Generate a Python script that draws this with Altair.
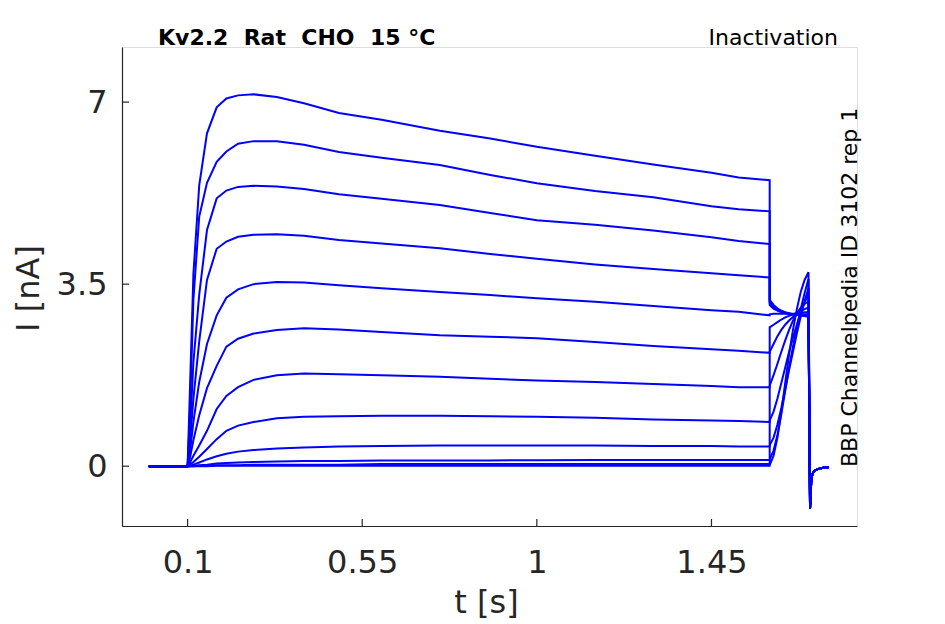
import altair as alt
import pandas as pd

# ---- data ----
# time points (s) of the conditioning pulse
t_pulse = [0.0, 0.1, 0.105, 0.115, 0.13, 0.15, 0.175, 0.2, 0.23, 0.27, 0.33, 0.4,
           0.49, 0.6, 0.75, 0.88, 1.0, 1.15, 1.3, 1.45, 1.52, 1.6]
# current (nA) of each sweep during the conditioning pulse
i_pulse = [
    [0, 0, 1.2, 3.7, 5.4, 6.4, 6.9, 7.07, 7.13, 7.15, 7.10, 6.98, 6.79, 6.66, 6.45, 6.30, 6.14, 5.97, 5.80, 5.64, 5.55, 5.50],
    [0, 0, 0.8, 3.2, 4.8, 5.45, 5.85, 6.05, 6.2, 6.25, 6.25, 6.18, 6.04, 5.93, 5.79, 5.6, 5.44, 5.29, 5.17, 5.0, 4.94, 4.90],
    [0, 0, 0.5, 2.0, 3.3, 4.54, 5.15, 5.30, 5.37, 5.39, 5.38, 5.33, 5.23, 5.14, 5.02, 4.87, 4.73, 4.64, 4.53, 4.40, 4.33, 4.27],
    [0, 0, 0.35, 1.3, 2.4, 3.58, 4.18, 4.32, 4.41, 4.45, 4.46, 4.43, 4.35, 4.28, 4.19, 4.08, 3.99, 3.88, 3.79, 3.71, 3.67, 3.63],
    [0, 0, 0.2, 0.85, 1.62, 2.35, 2.9, 3.24, 3.4, 3.5, 3.54, 3.53, 3.48, 3.42, 3.35, 3.29, 3.23, 3.16, 3.08, 3.0, 2.97, 2.90],
    [0, 0, 0.12, 0.5, 0.98, 1.5, 1.93, 2.3, 2.45, 2.55, 2.62, 2.65, 2.63, 2.58, 2.52, 2.49, 2.46, 2.39, 2.31, 2.25, 2.22, 2.18],
    [0, 0, 0.05, 0.2, 0.4, 0.68, 1.1, 1.35, 1.52, 1.66, 1.75, 1.78, 1.77, 1.75, 1.72, 1.68, 1.65, 1.62, 1.58, 1.54, 1.52, 1.52],
    [0, 0, 0.02, 0.08, 0.18, 0.33, 0.52, 0.68, 0.78, 0.85, 0.92, 0.95, 0.96, 0.97, 0.97, 0.96, 0.95, 0.93, 0.9, 0.88, 0.87, 0.85],
    [0, 0, 0.01, 0.03, 0.07, 0.13, 0.19, 0.24, 0.28, 0.31, 0.34, 0.36, 0.38, 0.39, 0.40, 0.40, 0.40, 0.40, 0.39, 0.39, 0.38, 0.38],
    [0, 0, 0, 0.01, 0.02, 0.03, 0.05, 0.06, 0.07, 0.08, 0.09, 0.1, 0.1, 0.11, 0.11, 0.11, 0.115, 0.12, 0.12, 0.12, 0.12, 0.12],
    [0, 0, 0, 0, 0.01, 0.01, 0.02, 0.02, 0.02, 0.03, 0.03, 0.03, 0.03, 0.04, 0.04, 0.04, 0.04, 0.04, 0.04, 0.04, 0.04, 0.04],
    [0, 0, 0, 0, 0, 0, 0.01, 0.01, 0.01, 0.01, 0.01, 0.01, 0.01, 0.01, 0.01, 0.01, 0.01, 0.01, 0.01, 0.01, 0.01, 0.01],
]
# time points (s) of the test pulse
t_test = [1.6, 1.61, 1.62, 1.63, 1.64, 1.65, 1.66, 1.67, 1.68, 1.69, 1.7]
i_test = [
    [3.2, 3.1, 3.03, 2.99, 2.96, 2.94, 2.92, 2.91, 2.9, 2.89, 2.88],
    [3.17, 3.08, 3.02, 2.98, 2.95, 2.93, 2.92, 2.91, 2.9, 2.89, 2.88],
    [3.14, 3.06, 3.0, 2.97, 2.95, 2.93, 2.92, 2.91, 2.9, 2.9, 2.89],
    [3.1, 3.03, 2.99, 2.96, 2.94, 2.93, 2.92, 2.91, 2.91, 2.9, 2.9],
    [2.92, 2.93, 2.93, 2.93, 2.93, 2.93, 2.93, 2.93, 2.92, 2.92, 2.92],
    [2.2, 2.35, 2.5, 2.62, 2.72, 2.8, 2.87, 2.93, 2.98, 3.02, 3.05],
    [1.55, 1.75, 1.97, 2.2, 2.42, 2.62, 2.8, 2.94, 3.05, 3.12, 3.17],
    [0.88, 1.05, 1.3, 1.6, 1.9, 2.2, 2.47, 2.72, 2.95, 3.15, 3.3],
    [0.4, 0.55, 0.8, 1.12, 1.48, 1.85, 2.2, 2.55, 2.88, 3.18, 3.42],
    [0.13, 0.3, 0.6, 1.0, 1.45, 1.9, 2.3, 2.68, 3.02, 3.33, 3.6],
    [2.67, 2.72, 2.77, 2.82, 2.86, 2.89, 2.92, 2.94, 2.95, 2.96, 2.96],
    [0.02, 0.2, 0.55, 1.05, 1.6, 2.15, 2.62, 3.02, 3.35, 3.58, 3.73],
]
# tail after the test pulse (shared by all sweeps)
t_tail = [1.704, 1.707, 1.71, 1.715, 1.722, 1.732, 1.745, 1.752]
i_tail = [-0.81, -0.3, -0.15, -0.09, -0.06, -0.04, -0.02, -0.02]

x_ticks = [0.1, 0.55, 1, 1.45]
y_ticks = [0, 3.5, 7]

NB = "\u00a0"
title_left = "Kv2.2" + NB * 2 + "Rat" + NB * 2 + "CHO" + NB * 2 + "15" + NB + "°C"
title_right = "Inactivation"
side_text = "BBP Channelpedia ID 3102 rep 1"

# ---- build long table ----
rows = []
for s in range(len(i_pulse)):
    k = 0
    for t, v in zip(t_pulse, i_pulse[s]):
        rows.append({"sweep": s, "k": k, "t": t, "I": v}); k += 1
    for t, v in zip(t_test, i_test[s]):
        rows.append({"sweep": s, "k": k, "t": t, "I": v}); k += 1
    for t, v in zip(t_tail, i_tail):
        rows.append({"sweep": s, "k": k, "t": t, "I": v}); k += 1
df = pd.DataFrame(rows)

W, H = 735, 479
AX = "#262626"
FONT = "DejaVu Sans"

xs = alt.Scale(domain=[-0.069, 1.825], nice=False, zero=False)
ys = alt.Scale(domain=[-1.15, 8.06], nice=False, zero=False)

lines = alt.Chart(df).mark_line(color="#0000ff", strokeWidth=2, clip=True).encode(
    x=alt.X("t:Q", scale=xs, axis=alt.Axis(
        title="t [s]", values=x_ticks, labelExpr="'' + datum.value", grid=False, ticks=False, tickSize=0,
        labelPadding=21, labelFontSize=32, labelColor=AX, labelFont=FONT,
        titleFontSize=32, titleFont=FONT, titleColor=AX, titleFontWeight="normal",
        titleBaseline="alphabetic", titleY=86, titleX=364,
        domainColor=AX, domainWidth=1.2)),
    y=alt.Y("I:Q", scale=ys, axis=alt.Axis(
        title="I [nA]", values=y_ticks, labelExpr="'' + datum.value", grid=False, ticks=False, tickSize=0,
        labelPadding=15, labelFontSize=32, labelColor=AX, labelFont=FONT,
        titleFontSize=32, titleFont=FONT, titleColor=AX, titleFontWeight="normal",
        titleBaseline="alphabetic", titleX=-84, titleY=241, titleAngle=270,
        domainColor=AX, domainWidth=1.2)),
    detail="sweep:N",
    order="k:Q",
)

xt = alt.Chart(pd.DataFrame({"t": x_ticks})).mark_rule(color=AX, strokeWidth=1.2).encode(
    x=alt.X("t:Q", scale=xs), y=alt.value(H), y2=alt.value(H - 7))
yt = alt.Chart(pd.DataFrame({"I": y_ticks})).mark_rule(color=AX, strokeWidth=1.2).encode(
    y=alt.Y("I:Q", scale=ys), x=alt.value(0), x2=alt.value(7))

t1 = alt.Chart(pd.DataFrame({"s": [title_left]})).mark_text(
    font=FONT, fontSize=22, fontWeight="bold", align="left", baseline="alphabetic", color="black"
).encode(text="s:N", x=alt.value(36), y=alt.value(-2))
t2 = alt.Chart(pd.DataFrame({"s": [title_right]})).mark_text(
    font=FONT, fontSize=22, align="right", baseline="alphabetic", color="black"
).encode(text="s:N", x=alt.value(716), y=alt.value(-2))
t3 = alt.Chart(pd.DataFrame({"s": [side_text]})).mark_text(
    font=FONT, fontSize=22, align="left", baseline="alphabetic", angle=270, color="black"
).encode(text="s:N", x=alt.value(735), y=alt.value(420))

chart = alt.layer(lines, xt, yt, t1, t2, t3).properties(
    width=W, height=H,
    autosize=alt.AutoSizeParams(type="none"),
    padding={"left": 114, "top": 39, "right": 60, "bottom": 96},
).configure_view(stroke=None).configure(background="white")

chart.save("out.html", embed_options={"renderer": "svg", "actions": False})
